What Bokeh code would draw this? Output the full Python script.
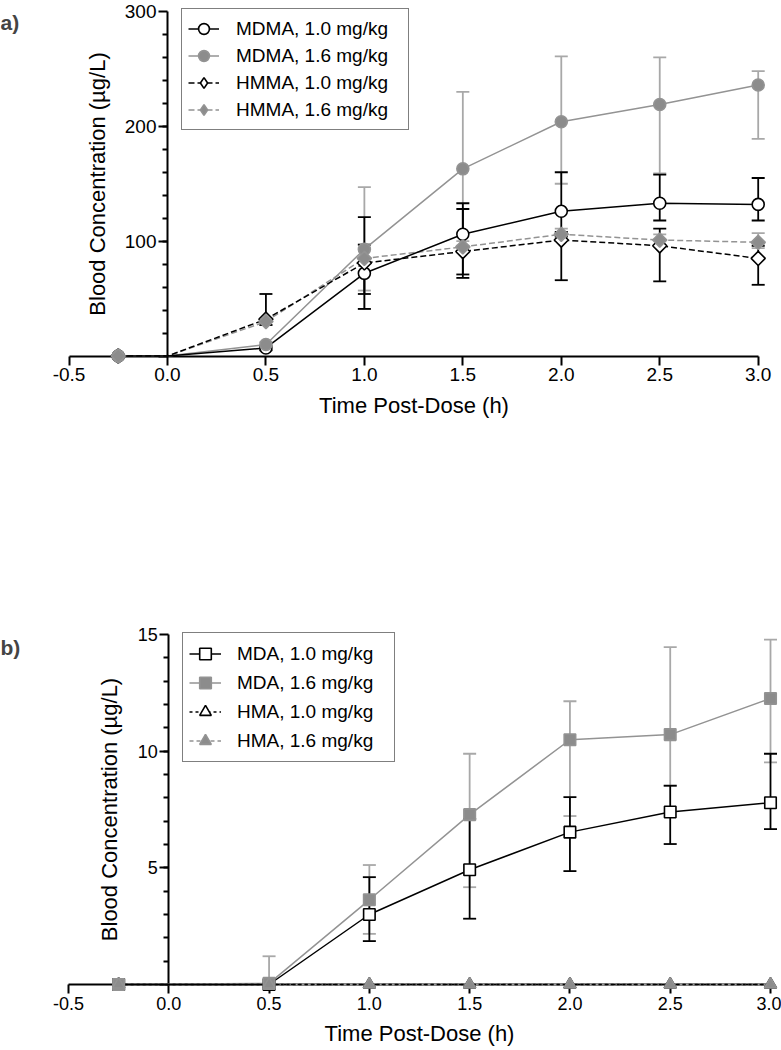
import numpy as np
from bokeh.plotting import figure
from bokeh.models import (Range1d, FixedTicker, Legend, LegendItem, Whisker, TeeHead,
                          ColumnDataSource, Label, NumeralTickFormatter)
from bokeh.layouts import column
from bokeh.embed import file_html
from bokeh.resources import INLINE

# ------------------------- data -------------------------
time_a = [-0.25, 0.0, 0.5, 1.0, 1.5, 2.0, 2.5, 3.0]
mdma_10 = [0, 0, 7, 72, 106, 126, 133, 132]
mdma_10_lo = [0, 0, 5, 54, 71, 104, 118, 118]
mdma_10_hi = [0, 0, 9, 97, 133, 160, 158, 155]
mdma_16 = [0, 0, 10, 93, 163, 204, 219, 236]
mdma_16_lo = [0, 0, 8, 41, 96, 150, 159, 189]
mdma_16_hi = [0, 0, 12, 147, 230, 261, 260, 248]
hmma_10 = [0, 0, 32, 81, 91, 101, 96, 85]
hmma_10_lo = [0, 0, 27, 41, 68, 66, 65, 62]
hmma_10_hi = [0, 0, 54, 121, 128, 108, 111, 96]
hmma_16 = [0, 0, 30, 85, 95, 106, 101, 99]
hmma_16_lo = [0, 0, 27, 57, 90, 101, 96, 94]
hmma_16_hi = [0, 0, 33, 97, 100, 111, 106, 107]

time_b = [-0.25, 0.5, 1.0, 1.5, 2.0, 2.5, 3.0]
mda_10 = [0, 0, 3.0, 4.92, 6.53, 7.39, 7.79]
mda_10_lo = [0, 0, 1.86, 2.82, 4.86, 6.02, 6.66]
mda_10_hi = [0, 0, 4.6, 7.1, 8.03, 8.52, 9.89]
mda_16 = [0, 0.05, 3.63, 7.28, 10.49, 10.71, 12.26]
mda_16_lo = [0, 0, 2.17, 4.17, 7.22, 8.52, 9.52]
mda_16_hi = [0, 1.21, 5.12, 9.89, 12.14, 14.46, 14.78]
hma_10 = [0, 0, 0, 0, 0, 0, 0]
hma_16 = [0, 0, 0, 0, 0, 0, 0]

xtick_vals = [-0.5, 0.0, 0.5, 1.0, 1.5, 2.0, 2.5, 3.0]
xtick_labels = ["-0.5", "0.0", "0.5", "1.0", "1.5", "2.0", "2.5", "3.0"]
ytick_a = [0, 100, 200, 300]
ytick_a_labels = ["", "100", "200", "300"]
ytick_b = [0, 5, 10, 15]
ytick_b_labels = ["", "5", "10", "15"]

labels_a = ["MDMA, 1.0 mg/kg", "MDMA, 1.6 mg/kg", "HMMA, 1.0 mg/kg", "HMMA, 1.6 mg/kg"]
labels_b = ["MDA, 1.0 mg/kg", "MDA, 1.6 mg/kg", "HMA, 1.0 mg/kg", "HMA, 1.6 mg/kg"]

# ------------------------- styles -------------------------
FONT = "Liberation Sans"
BLACK = "#000000"
GRAY_M = "#8c8c8c"
GRAY_L = "#939393"
GRAY_E = "#a8a8a8"
W = 781


def make_panel(top, H, xmap, ymap, ybounds, yticks, ylabels, yminor, tick_fs):
    (x0, px0), (x1, px1) = xmap
    (y0, py0), (y1, py1) = ymap
    ppx = (px1 - px0) / (x1 - x0)
    xs = x0 - px0 / ppx
    xe = xs + W / ppx
    ppy = (py0 - py1) / (y1 - y0)
    ye = y1 + (py1 - top) / ppy
    ys = ye - H / ppy
    p = figure(width=W, height=H, x_range=Range1d(xs, xe), y_range=Range1d(ys, ye),
               output_backend="svg", toolbar_location=None,
               min_border=0, min_border_left=0, min_border_right=0,
               min_border_top=0, min_border_bottom=0)
    p.grid.visible = False
    p.outline_line_color = None
    p.background_fill_color = "white"
    p.border_fill_color = "white"

    xa = p.xaxis[0]
    xa.fixed_location = 0
    xa.bounds = (-0.5, 3.0)
    xa.ticker = FixedTicker(ticks=xtick_vals, minor_ticks=[])
    xa.formatter = NumeralTickFormatter(format="0.0")
    xa.major_label_overrides = dict(zip(xtick_vals, xtick_labels))
    xa.axis_label = "Time Post-Dose (h)"

    ya = p.yaxis[0]
    ya.fixed_location = 0
    ya.bounds = ybounds
    ya.ticker = FixedTicker(ticks=yticks, minor_ticks=yminor)
    ya.major_label_overrides = dict(zip(yticks, ylabels))
    ya.axis_label = "Blood Concentration (\u00b5g/L)"

    for ax in (xa, ya):
        ax.level = "underlay"
        ax.axis_line_width = 2
        ax.axis_line_color = BLACK
        ax.major_tick_line_width = 2
        ax.major_tick_out = 9
        ax.major_tick_in = 0
        ax.minor_tick_out = 5
        ax.minor_tick_in = 0
        ax.minor_tick_line_width = 2
        ax.major_label_text_font = FONT
        ax.major_label_text_font_size = tick_fs
        ax.major_label_text_color = BLACK
        ax.axis_label_text_font = FONT
        ax.axis_label_text_font_size = "22px"
        ax.axis_label_text_font_style = "normal"
        ax.axis_label_text_color = BLACK
    xa.minor_tick_line_color = None
    xa.major_label_standoff = 3
    xa.axis_label_standoff = 8
    ya.major_label_standoff = 2
    ya.axis_label_standoff = 12
    return p, ppx, ppy, xs, ye


def add_series(p, t, v, lo, hi, color, ecolor, dash, marker, size, fill, skip_zero_time=False):
    # error bars (only where a bar exists)
    idx = [i for i in range(len(t)) if hi[i] > lo[i]]
    es = ColumnDataSource(dict(x=[t[i] for i in idx], lo=[lo[i] for i in idx], hi=[hi[i] for i in idx]))
    w = Whisker(source=es, base="x", lower="lo", upper="hi", dimension="height",
                line_color=ecolor, line_width=1.8, level="underlay",
                upper_head=TeeHead(size=13, line_color=ecolor, line_width=1.8),
                lower_head=TeeHead(size=13, line_color=ecolor, line_width=1.8))
    p.add_layout(w)
    ln = p.line(t, v, line_color=color, line_width=1.5, line_dash=dash)
    mi = [i for i in range(len(t)) if not (skip_zero_time and t[i] == 0)]
    kw = {}
    leg_marker = marker
    if marker == "diamond":
        marker, kw = "square", dict(angle=np.pi / 4)
    sc = p.scatter([t[i] for i in mi], [v[i] for i in mi], marker=marker, size=size,
                   fill_color=fill, line_color=color, line_width=1.6, **kw)
    legend_glyph = sc
    if leg_marker == "diamond":
        # legend swatch (the legend does not rotate markers)
        legend_glyph = p.scatter([np.nan], [np.nan], marker="diamond", size=size,
                                 fill_color=fill, line_color=color, line_width=1.6)
    return ln, sc, legend_glyph


# ------------------------- panel a -------------------------
HA = 600
pa, ppx_a, ppy_a, xs_a, ye_a = make_panel(
    0, HA, ((-0.5, 68.5), (3.0, 757.7)), ((0, 355.5), (300, 11)),
    (0, 300), ytick_a, ytick_a_labels, list(np.arange(20, 300, 20)), "19px")

s_a = [
    (mdma_16, mdma_16_lo, mdma_16_hi, GRAY_L, GRAY_E, "solid", "circle", 12, GRAY_M),
    (hmma_16, hmma_16_lo, hmma_16_hi, GRAY_L, GRAY_E, "6 3", "diamond", 10, GRAY_M),
    (mdma_10, mdma_10_lo, mdma_10_hi, BLACK, BLACK, "solid", "circle", 12, "white"),
    (hmma_10, hmma_10_lo, hmma_10_hi, BLACK, BLACK, "6 3", "diamond", 10, "white"),
]
rends_a = []
for v, lo, hi, c, ec, d, m, sz, f in s_a:
    rends_a.append(add_series(pa, time_a, v, lo, hi, c, ec, d, m, sz, f, skip_zero_time=True))
for k in [2, 3, 0, 1]:
    r = rends_a[k][1]
    pa.renderers.remove(r)
    pa.renderers.append(r)

leg_a = Legend(items=[
    LegendItem(label=labels_a[0], renderers=[rends_a[2][0], rends_a[2][2]]),
    LegendItem(label=labels_a[1], renderers=[rends_a[0][0], rends_a[0][2]]),
    LegendItem(label=labels_a[2], renderers=[rends_a[3][0], rends_a[3][2]]),
    LegendItem(label=labels_a[3], renderers=[rends_a[1][0], rends_a[1][2]]),
], location=(181, HA - 130))
pa.add_layout(leg_a)

pa.add_layout(Label(x=xs_a, y=ye_a - 10 / ppy_a, text="a)",
                    text_font=FONT, text_font_size="21px", text_font_style="bold",
                    text_baseline="top", text_align="left"))

# ------------------------- panel b -------------------------
TB = 600
HB = 1050 - TB
pb, ppx_b, ppy_b, xs_b, ye_b = make_panel(
    TB, HB, ((-0.5, 68), (3.0, 770)), ((0, 984), (15, 634)),
    (0, 15), ytick_b, ytick_b_labels, list(np.arange(1, 15, 1)), "18px")

s_b = [
    (mda_16, mda_16_lo, mda_16_hi, GRAY_L, GRAY_E, "solid", "square", 11.5, GRAY_M),
    (hma_16, hma_16, hma_16, GRAY_L, GRAY_E, "4 3", "triangle", 12, GRAY_M),
    (mda_10, mda_10_lo, mda_10_hi, BLACK, BLACK, "solid", "square", 11.5, "white"),
    (hma_10, hma_10, hma_10, BLACK, BLACK, "3 3", "triangle", 12, "white"),
]
rends_b = []
for v, lo, hi, c, ec, d, m, sz, f in s_b:
    rends_b.append(add_series(pb, time_b, v, lo, hi, c, ec, d, m, sz, f))
for k in [2, 3, 0, 1]:
    r = rends_b[k][1]
    pb.renderers.remove(r)
    pb.renderers.append(r)

leg_b = Legend(items=[
    LegendItem(label=labels_b[0], renderers=[rends_b[2][0], rends_b[2][2]]),
    LegendItem(label=labels_b[1], renderers=[rends_b[0][0], rends_b[0][2]]),
    LegendItem(label=labels_b[2], renderers=[rends_b[3][0], rends_b[3][2]]),
    LegendItem(label=labels_b[3], renderers=[rends_b[1][0], rends_b[1][2]]),
], location=(182, 1050 - 762))
pb.add_layout(leg_b)

pb.add_layout(Label(x=xs_b, y=ye_b - (635 - TB) / ppy_b, text="b)",
                    text_font=FONT, text_font_size="21px", text_font_style="bold",
                    text_baseline="top", text_align="left"))

for leg, pad, gw, gh, lw, st in ((leg_a, 6, 31, 27, 166, 17), (leg_b, 6, 32, 29, 151, 16)):
    leg.border_line_color = BLACK
    leg.border_line_width = 1.5
    leg.background_fill_color = "white"
    leg.background_fill_alpha = 1.0
    leg.padding = pad
    leg.spacing = 0
    leg.margin = 0
    leg.glyph_width = gw
    leg.glyph_height = gh
    leg.label_height = gh
    leg.label_width = lw
    leg.label_standoff = st
    leg.label_text_font = FONT
    leg.label_text_font_size = "19px"
    leg.label_text_color = BLACK

layout = column(pa, pb)
open("out.html", "w").write(file_html(layout, INLINE))
